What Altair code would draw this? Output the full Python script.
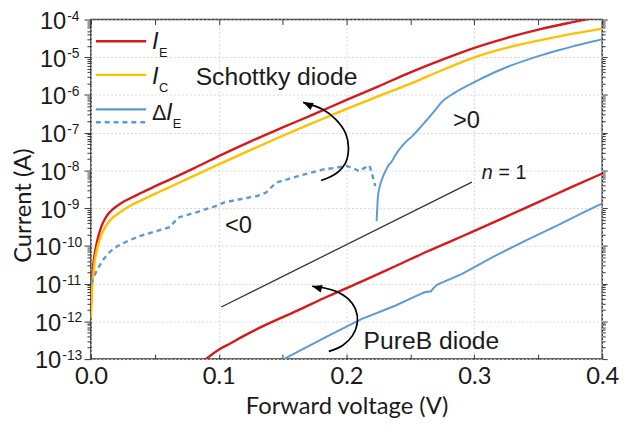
import altair as alt
import pandas as pd

# ---------------- data ----------------
# Schottky diode
SCH_V = [0.0, 0.001, 0.002, 0.003, 0.005, 0.008, 0.012, 0.017, 0.023, 0.03, 0.04, 0.05, 0.06, 0.08,
         0.1, 0.125, 0.15, 0.175, 0.2, 0.225, 0.25, 0.275, 0.3, 0.325, 0.35, 0.375, 0.4]
SCH_IE = [2.5e-12, 1.41e-11, 3.55e-11, 6.3e-11, 1.41e-10, 3.16e-10, 6.0e-10, 9.3e-10, 1.32e-9,
          1.78e-9, 2.6e-9, 3.8e-9, 5.4e-9, 1.12e-8, 2.4e-8, 5.9e-8, 1.38e-7, 3.16e-7, 7.4e-7,
          1.7e-6, 4.0e-6, 8.7e-6, 1.78e-5, 3.24e-5, 5.4e-5, 8.3e-5, 1.23e-4]
SCH_IC = [1.26e-12, 7.9e-12, 2.0e-11, 4.0e-11, 8.9e-11, 1.9e-10, 3.5e-10, 5.6e-10, 7.9e-10,
          1.12e-9, 1.66e-9, 2.4e-9, 3.4e-9, 7.1e-9, 1.45e-8, 3.5e-8, 8.3e-8, 1.9e-7, 4.3e-7,
          9.3e-7, 2.0e-6, 4.6e-6, 1.0e-5, 1.78e-5, 2.75e-5, 4.1e-5, 5.75e-5]
# Schottky delta I_E, negative part (magnitude, dashed)
SCH_DN_V = [0.0, 0.002, 0.005, 0.01, 0.015, 0.021, 0.03, 0.039, 0.05, 0.062, 0.068, 0.083, 0.097,
            0.104, 0.12, 0.13, 0.137, 0.145, 0.155, 0.165, 0.172, 0.182, 0.191, 0.2, 0.206, 0.21,
            0.214, 0.218, 0.22, 0.2225]
SCH_DN_I = [1.0e-11, 1.41e-11, 2.4e-11, 4.5e-11, 7.1e-11, 1.0e-10, 1.41e-10, 1.86e-10, 2.4e-10,
            3.16e-10, 5.6e-10, 7.9e-10, 1.12e-9, 1.41e-9, 1.82e-9, 2.1e-9, 2.6e-9, 4.8e-9, 6.0e-9,
            7.6e-9, 8.7e-9, 1.07e-8, 1.17e-8, 1.32e-8, 1.12e-8, 9.5e-9, 1.17e-8, 1.35e-8, 7.9e-9, 3.8e-9]
# Schottky delta I_E, positive part (solid)
SCH_DP_V = [0.2235, 0.224, 0.2245, 0.226, 0.228, 0.231, 0.233, 0.235, 0.238, 0.241, 0.244, 0.247,
            0.251, 0.256, 0.261, 0.268, 0.274, 0.285, 0.3, 0.313, 0.326, 0.34, 0.352, 0.365, 0.377,
            0.39, 0.4]
SCH_DP_I = [4.5e-10, 1.0e-9, 2.0e-9, 3.8e-9, 6.3e-9, 1.05e-8, 1.41e-8, 1.66e-8, 2.5e-8, 3.5e-8,
            4.7e-8, 6.0e-8, 7.9e-8, 1.2e-7, 1.86e-7, 3.5e-7, 6.3e-7, 1.17e-6, 2.2e-6, 3.6e-6,
            5.6e-6, 8.3e-6, 1.12e-5, 1.51e-5, 1.95e-5, 2.5e-5, 3.0e-5]
# PureB diode
PB_IE_V = [0.088, 0.1, 0.109, 0.12, 0.135, 0.161, 0.186, 0.212, 0.238, 0.263, 0.284, 0.3, 0.325,
           0.35, 0.375, 0.4]
PB_IE = [8.9e-14, 1.78e-13, 2.6e-13, 4.2e-13, 7.6e-13, 1.9e-12, 4.7e-12, 1.15e-11, 2.9e-11,
         7.1e-11, 1.45e-10, 2.5e-10, 6.0e-10, 1.45e-9, 3.5e-9, 8.3e-9]
PB_DIE_V = [0.148, 0.165, 0.186, 0.212, 0.238, 0.255, 0.261, 0.266, 0.268, 0.271, 0.29, 0.315,
            0.34, 0.365, 0.385, 0.4]
PB_DIE = [8.9e-14, 1.78e-13, 4.2e-13, 1.17e-12, 2.6e-12, 4.8e-12, 5.9e-12, 6.3e-12, 7.6e-12,
          9.5e-12, 1.78e-11, 5.2e-11, 1.38e-10, 3.5e-10, 7.6e-10, 1.35e-9]
# ideality n = 1 reference line
N1_V = [0.102, 0.298]
N1_I = [2.4e-12, 4.9e-9]

# curved annotation arrows (data coordinates)
ARR_SCH_V = [0.180, 0.1915, 0.1992, 0.2015, 0.1992, 0.1915, 0.1815, 0.1660]
ARR_SCH_I = [5.4e-9, 8.2e-9, 1.6e-8, 3.95e-8, 9.8e-8, 2.27e-7, 4.15e-7, 6.4e-7]
ARR_PB_V = [0.1861, 0.1969, 0.2046, 0.2085, 0.2069, 0.2015, 0.1915, 0.1799, 0.1730]
ARR_PB_I = [1.6e-13, 2.3e-13, 4.2e-13, 9.8e-13, 2.14e-12, 3.9e-12, 6.3e-12, 8.05e-12, 8.55e-12]

# axis ticks
X_MAJOR = [0.0, 0.1, 0.2, 0.3, 0.4]
X_ALL = [0.0, 0.05, 0.1, 0.15, 0.2, 0.25, 0.3, 0.35, 0.4]
Y_MAJOR = [1e-13, 1e-12, 1e-11, 1e-10, 1e-9, 1e-8, 1e-7, 1e-6, 1e-5, 1e-4]
Y_EXP = ["-13", "-12", "-11", "-10", "-9", "-8", "-7", "-6", "-5", "-4"]
Y_ALL = [m * d for d in Y_MAJOR[:-1] for m in range(1, 10)] + [Y_MAJOR[-1]]

# ---------------- styling ----------------
RED = "#D7191C"
GOLD = "#FFC000"
BLUE = "#5B9BD5"
TXT = "#1a1a1a"
AX = "#333333"
GRID = "#d6d6d6"
SANS = "Liberation Sans"
CAL = "Lato"
W, H = 518, 344

xs = alt.Scale(domain=[0, 0.4], nice=False, zero=False)
ys = alt.Scale(type="log", domain=[1e-13, 1e-4], nice=False)
DECADE = "abs(log(datum.value)/LN10 - round(log(datum.value)/LN10)) < 0.01"


def frame(v, i):
    return pd.DataFrame({"V": v, "I": i, "k": list(range(len(v)))})


def line(data, color, width, xaxis=None, yaxis=None, dash=None, interp="linear"):
    kw = dict(color=color, strokeWidth=width, clip=True, interpolate=interp)
    if dash:
        kw["strokeDash"] = dash
    return alt.Chart(data).mark_line(**kw).encode(
        x=alt.X("V:Q", scale=xs, axis=xaxis),
        y=alt.Y("I:Q", scale=ys, axis=yaxis),
        order="k:Q",
    )


ax_x_main = alt.Axis(orient="bottom", values=X_MAJOR, format=".1f", labelFont=CAL, labelFontSize=24,
                     labelColor=TXT, labelPadding=6, labelFlush=False, ticks=False, domain=False,
                     grid=True, gridColor=GRID, gridDash=[2, 2], gridWidth=1,
                     title="Forward voltage (V)", titleFont=CAL, titleFontSize=24,
                     titleFontWeight="normal", titleColor=TXT, titlePadding=6)
ax_y_main = alt.Axis(orient="left", values=Y_ALL, labels=False, ticks=True, tickColor=AX, tickWidth=1,
                     tickSize={"condition": {"test": DECADE, "value": 7}, "value": 4},
                     domain=False, grid=False, title="Current (A)", titleFont=CAL, titleFontSize=24,
                     titleFontWeight="normal", titleColor=TXT, titleX=-68, titleY=188,
                     titleBaseline="middle")
ax_x_bot_in = alt.Axis(orient="top", offset=-H, values=X_ALL, labels=False, ticks=True, tickSize=5,
                       tickColor=AX, tickWidth=1, domain=False, grid=False, title=None)
ax_x_top_in = alt.Axis(orient="bottom", offset=-H, values=X_ALL, labels=False, ticks=True, tickSize=5,
                       tickColor=AX, tickWidth=1, domain=False, grid=False, title=None)
ax_y_right = alt.Axis(orient="right", values=Y_ALL, labels=False, ticks=True, tickColor=AX, tickWidth=1,
                      tickSize={"condition": {"test": DECADE, "value": 5}, "value": 3},
                      domain=False, grid=False, title=None)
ax_y_grid = alt.Axis(orient="left", values=Y_MAJOR, labels=False, ticks=False, domain=False,
                     grid=True, gridColor=GRID, gridDash=[2, 2], gridWidth=1, title=None)

layers = [
    line(frame(SCH_V, SCH_IE), RED, 2.4, ax_x_main, ax_y_main, interp="monotone"),
    line(frame(SCH_V, SCH_IC), GOLD, 2.4, ax_x_bot_in, ax_y_right, interp="monotone"),
    line(frame(SCH_DN_V, SCH_DN_I), BLUE, 2.4, ax_x_top_in, ax_y_grid, dash=[5, 4]),
    line(frame(SCH_DP_V, SCH_DP_I), BLUE, 2.0, interp="monotone"),
    line(frame(PB_IE_V, PB_IE), RED, 2.4, interp="monotone"),
    line(frame(PB_DIE_V, PB_DIE), BLUE, 2.0),
    line(frame(N1_V, N1_I), "#333333", 1.3),
    line(frame(ARR_SCH_V, ARR_SCH_I), "black", 1.7, interp="catmull-rom"),
    line(frame(ARR_PB_V, ARR_PB_I), "black", 1.7, interp="catmull-rom"),
]

HEAD = "M0,0L1,2.6L-1,2.6Z"


def head(v, i, angle):
    return alt.Chart(pd.DataFrame({"V": [v], "I": [i]})).mark_point(
        shape=HEAD, filled=True, color="black", opacity=1, size=60, angle=angle, strokeWidth=0
    ).encode(x=alt.X("V:Q", scale=xs, axis=None), y=alt.Y("I:Q", scale=ys, axis=None))


layers += [head(ARR_SCH_V[-1], ARR_SCH_I[-1], 295), head(ARR_PB_V[-1], ARR_PB_I[-1], 285)]


def dtext(txt, v, i, size, italic=False, align="center", font=SANS):
    return alt.Chart(pd.DataFrame({"V": [v], "I": [i]})).mark_text(
        text=txt, fontSize=size, font=font, color=TXT, align=align, baseline="alphabetic",
        fontStyle="italic" if italic else "normal"
    ).encode(x=alt.X("V:Q", scale=xs, axis=None), y=alt.Y("I:Q", scale=ys, axis=None))


layers += [
    dtext("Schottky diode", 0.1452, 1.84e-6, 25),
    dtext("PureB diode", 0.2664, 1.9e-13, 25),
    dtext("<0", 0.1154, 2.2e-10, 24),
    dtext(">0", 0.2938, 1.32e-7, 24),
    dtext("n", 0.3058, 6.1e-9, 20, italic=True, align="left"),
    dtext("= 1", 0.3189, 6.1e-9, 20, align="left"),
]

# y tick labels: "10" with superscript exponent
ylab = pd.DataFrame({"I": Y_MAJOR, "e": Y_EXP})
ylab["n"] = ylab["e"].str.len()


def ylabels(nchar, right):
    base = alt.Chart(ylab).transform_filter(f"datum.n == {nchar}")
    ten = base.mark_text(text="10", font=SANS, fontSize=24, color=TXT, align="right",
                         baseline="alphabetic", dy=9.5).encode(
        y=alt.Y("I:Q", scale=ys, axis=None), x=alt.value(right))
    ex = base.mark_text(font=SANS, fontSize=14, color=TXT, align="left",
                        baseline="alphabetic", dy=1).encode(
        y=alt.Y("I:Q", scale=ys, axis=None), x=alt.value(right + 1), text="e:N")
    return [ten, ex]


layers += ylabels(2, -25) + ylabels(3, -30)

# legend (pixel positions inside the plot area)
ONE = pd.DataFrame({"a": [0]})


def lrule(y, color, dash=None):
    kw = dict(color=color, strokeWidth=2.4)
    if dash:
        kw["strokeDash"] = dash
    return alt.Chart(ONE).mark_rule(**kw).encode(x=alt.value(5), x2=alt.value(56), y=alt.value(y))


def ptext(txt, x, y, size, italic=False):
    return alt.Chart(ONE).mark_text(text=txt, fontSize=size, font=SANS, color=TXT, align="left",
                                    baseline="alphabetic",
                                    fontStyle="italic" if italic else "normal").encode(
        x=alt.value(x), y=alt.value(y))


layers += [
    lrule(22, RED), lrule(56, GOLD), lrule(91, BLUE), lrule(104, BLUE, [5, 4]),
    ptext("I", 62, 30, 24, True), ptext("E", 69, 38, 13),
    ptext("I", 62, 65, 24, True), ptext("C", 69, 73, 13),
    ptext("\u0394", 62, 102, 22), ptext("I", 76, 102, 24, True), ptext("E", 83, 110, 13),
]

chart = alt.layer(*layers).resolve_axis(x="independent", y="independent").properties(
    width=W, height=H,
    autosize=alt.AutoSizeParams(type="none"),
    padding={"left": 84, "top": 9, "right": 18, "bottom": 60},
).configure_view(stroke=AX, strokeWidth=1.5)

chart.save("out.html", embed_options={"renderer": "svg", "actions": False})
